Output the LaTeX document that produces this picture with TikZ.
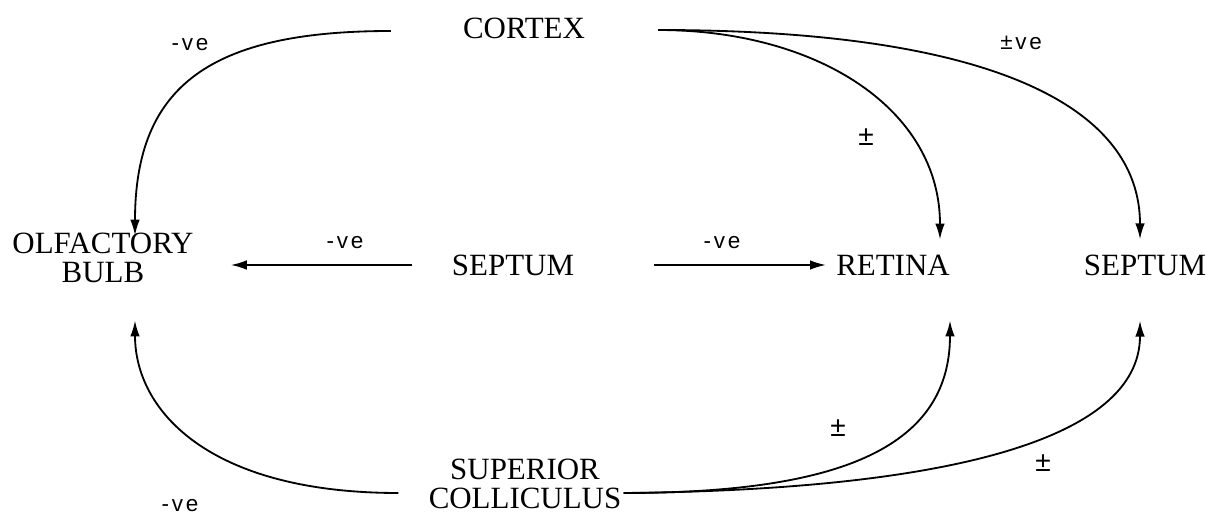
\documentclass[tikz,border=0pt]{standalone}
\usepackage{fontspec}
\setmainfont{Liberation Serif}
\newfontfamily\labelfont[LetterSpace=12]{Liberation Sans}
\usetikzlibrary{arrows.meta, positioning, calc}

\tikzset{
  region/.style={font=\fontsize{22}{21}\selectfont, align=center, inner sep=0pt},
  sign/.style={font=\labelfont\fontsize{16}{16}\selectfont},
  pm/.style={font=\labelfont\fontsize{20}{20}\selectfont},
  link/.style={line width=1.3pt, -{Latex[length=4mm,width=2.4mm]}},
}

\begin{document}
\begin{tikzpicture}[x=0.025cm, y=-0.025cm]
  \useasboundingbox (0,0) rectangle (1221,517);
  % regions
  \node[region] (cortex)  at (524,28)  {CORTEX};
  \node[region] (olf)     at (103,258) {OLFACTORY\\BULB};
  \node[region] (septum)  at (513,265) {SEPTUM};
  \node[region] (retina)  at (893,265) {RETINA};
  \node[region] (septumR) at (1145,265) {SEPTUM};
  \node[region] (supcol)  at (525,484) {SUPERIOR\\COLLICULUS};

  % ends of the connectors
  \coordinate (ctxL) at ($(cortex.west)+(-72,3)$);
  \coordinate (ctxR) at ($(cortex.east)+(73,2)$);
  \coordinate (olfT) at ($(olf.north)+(32,3)$);
  \coordinate (olfB) at ($(olf.south)+(32,37)$);
  \coordinate (olfE) at ($(olf.east |- septum.west)+(37,0)$);
  \coordinate (sepW) at ($(septum.west)+(-40,0)$);
  \coordinate (sepE) at ($(septum.east)+(80,0)$);
  \coordinate (retW) at ($(retina.west)+(-10,0)$);
  \coordinate (retT) at ($(retina.north)+(47,-15)$);
  \coordinate (retB) at ($(retina.south)+(57,45)$);
  \coordinate (sepRT) at ($(septumR.north)+(-5,-15)$);
  \coordinate (sepRB) at ($(septumR.south)+(-5,45)$);
  \coordinate (scL) at ($(supcol.west)+(-30,9)$);
  \coordinate (scR) at ($(supcol.east)+(2,9)$);

  % cortex
  \draw[link] (ctxL) .. controls +(-180,0) and +(0,-150) .. (olfT);
  \draw[link] (ctxR) .. controls +(160,0) and +(0,-130) .. (retT);
  \draw[link] (ctxR) .. controls +(340,0) and +(0,-130) .. (sepRT);
  % septum
  \draw[link] (sepW) -- (olfE);
  \draw[link] (sepE) -- (retW);
  % superior colliculus
  \draw[link] (scL) .. controls +(-190,0) and +(0,90) .. (olfB);
  \draw[link] (scR) .. controls +(210,0) and +(0,130) .. (retB);
  \draw[link] (scR) .. controls +(320,-3) and +(0,120) .. (sepRB);

  % signs
  \node[sign] at (190,45) {-ve};
  \node[sign] at (345,243) {-ve};
  \node[sign] at (722,243) {-ve};
  \node[sign] at (180,506) {-ve};
  \node[sign] at (1021,43) {±ve};
  \node[pm] at (866,137) {±};
  \node[pm] at (838,428) {±};
  \node[pm] at (1043,463) {±};
\end{tikzpicture}
\end{document}
